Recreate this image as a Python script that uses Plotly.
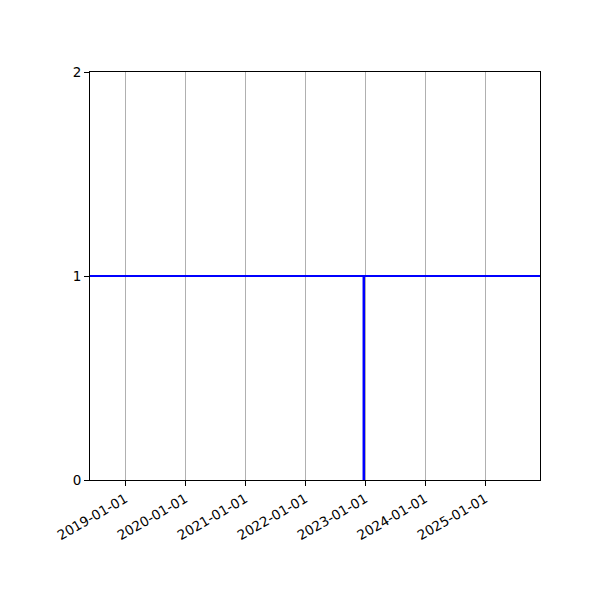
import plotly.graph_objects as go

# Data
x_range = ["2018-05-31", "2025-11-30"]
hline_x = ["2018-05-31", "2025-11-30"]
hline_y = [1, 1]
vline_x = ["2022-12-23", "2022-12-23"]
vline_y = [0, 1]
tick_vals = ["2019-01-01", "2020-01-01", "2021-01-01", "2022-01-01",
             "2023-01-01", "2024-01-01", "2025-01-01"]
y_ticks = [0, 1, 2]

fig = go.Figure()
fig.add_trace(go.Scatter(x=hline_x, y=hline_y, mode="lines",
                         line=dict(color="#0000ff", width=2), showlegend=False))
fig.add_trace(go.Scatter(x=vline_x, y=vline_y, mode="lines",
                         line=dict(color="#0000ff", width=2.5), showlegend=False))

fig.update_layout(
    width=600, height=600,
    margin=dict(l=82, r=68, t=64, b=128),
    plot_bgcolor="white", paper_bgcolor="white",
    font=dict(family="DejaVu Sans", size=13.5, color="black"),
    showlegend=False,
)
fig.update_xaxes(
    type="date", range=x_range,
    tickvals=tick_vals, ticktext=tick_vals, tickangle=-30,
    showgrid=True, gridcolor="#b0b0b0", gridwidth=1,
    showline=True, linecolor="black", linewidth=1, mirror=True,
    ticks="outside", ticklen=5, tickcolor="black",
    zeroline=False,
)
fig.update_yaxes(
    range=[0, 2], tickvals=y_ticks,
    showgrid=False,
    showline=True, linecolor="black", linewidth=1, mirror=True,
    ticks="outside", ticklen=5, tickcolor="black",
    zeroline=False,
)

fig.write_html("out.html")
